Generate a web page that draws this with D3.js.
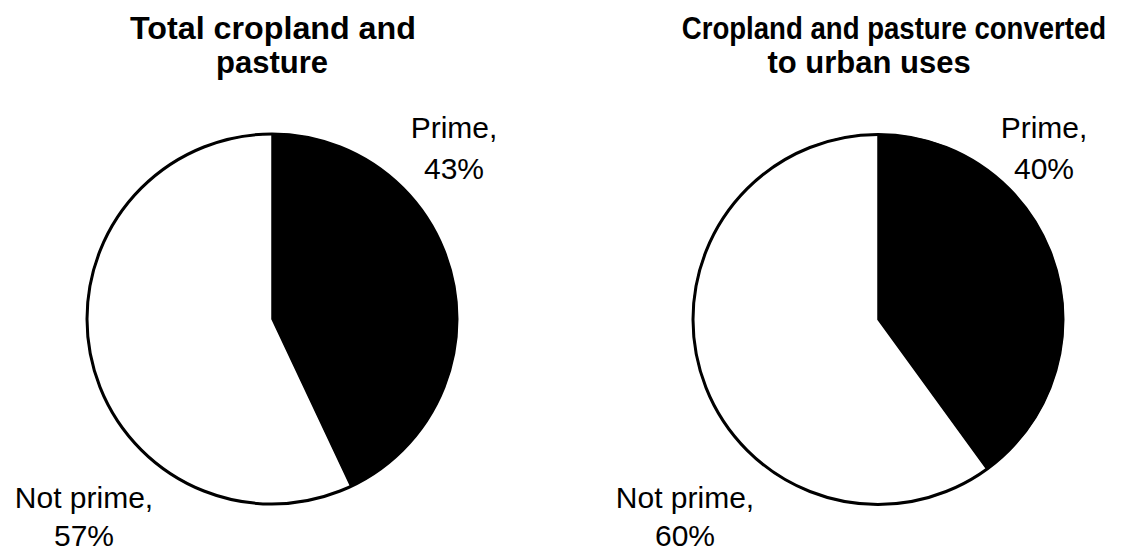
<!DOCTYPE html>
<html>
<head>
<meta charset="utf-8">
<script src="https://cdn.jsdelivr.net/npm/d3@7"></script>
<style>
  html, body { margin: 0; padding: 0; background: #fff; }
  svg { display: block; }
  text { font-family: "Liberation Sans", Arial, Helvetica, sans-serif; fill: #000; }
</style>
</head>
<body>
<svg id="chart" width="1124" height="553"></svg>
<script>
// Share of cropland and pasture classed as prime farmland
const panelTitles = [
  ["Total cropland and", "pasture"],
  ["Cropland and pasture converted", "to urban uses"]
];
const categories = ["Prime", "Not prime"];
const primeShares = [43, 40];
const notPrimeShares = [57, 60];

// Layout for each panel (titleScale narrows a long title line horizontally)
const layout = [
  { cx: 272, cy: 319, titleX: [273, 272], titleScale: [1.04, 1],
    primeLabel: [454, 138], notPrimeLabel: [84, 508] },
  { cx: 878, cy: 319.5, titleX: [894, 869], titleScale: [0.89, 1],
    primeLabel: [1044, 138], notPrimeLabel: [685, 508] }
];
const radius = 185;
const titleBaselines = [39, 73];

const svg = d3.select("#chart");
const fill = d3.scaleOrdinal().domain(categories).range(["#000", "#fff"]);

const pie = d3.pie()
  .sort(null)
  .value(d => d.value)
  .startAngle(0)
  .endAngle(2 * Math.PI);

const arc = d3.arc().innerRadius(0).outerRadius(radius);

panelTitles.forEach((title, i) => {
  const L = layout[i];
  const data = [
    { key: categories[0], value: primeShares[i] },
    { key: categories[1], value: notPrimeShares[i] }
  ];
  const g = svg.append("g");

  // Title
  title.forEach((line, j) => {
    g.append("text")
      .attr("transform", `translate(${L.titleX[j]},${titleBaselines[j]}) scale(${L.titleScale[j]},1)`)
      .attr("text-anchor", "middle")
      .style("font-size", "31px")
      .style("font-weight", "bold")
      .text(line);
  });

  // Pie
  const pg = g.append("g").attr("transform", `translate(${L.cx},${L.cy})`);
  pg.selectAll("path.slice")
    .data(pie(data))
    .join("path")
    .attr("class", "slice")
    .attr("d", arc)
    .attr("fill", d => fill(d.data.key))
    .attr("stroke", "#000")
    .attr("stroke-width", 1.5)
    .attr("stroke-linejoin", "miter");

  // Outline
  pg.append("circle")
    .attr("r", radius)
    .attr("fill", "none")
    .attr("stroke", "#000")
    .attr("stroke-width", 3);

  // Slice labels
  const labels = [
    { pos: L.primeLabel, gap: 41, lines: [categories[0] + ",", primeShares[i] + "%"] },
    { pos: L.notPrimeLabel, gap: 38, lines: [categories[1] + ",", notPrimeShares[i] + "%"] }
  ];
  labels.forEach(lb => {
    lb.lines.forEach((t, k) => {
      g.append("text")
        .attr("x", lb.pos[0])
        .attr("y", lb.pos[1] + k * lb.gap)
        .attr("text-anchor", "middle")
        .style("font-size", "30px")
        .text(t);
    });
  });
});
</script>
</body>
</html>
